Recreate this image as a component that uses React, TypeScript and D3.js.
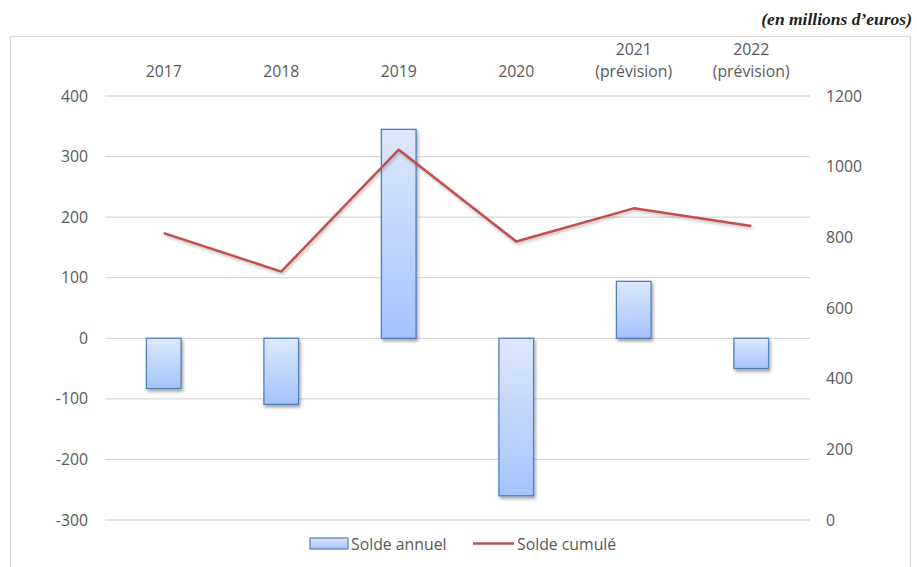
import React from "react";
import * as d3 from "d3";

const categories = ["2017", "2018", "2019", "2020", "2021\n(prévision)", "2022\n(prévision)"];
const soldeAnnuel = [-83, -109, 345, -260, 94, -50];
const soldeCumule = [812, 703, 1048, 788, 882, 832];
const leftTicks = [400, 300, 200, 100, 0, -100, -200, -300];
const rightTicks = [1200, 1000, 800, 600, 400, 200, 0];

const W = 917, H = 567;
const FONT = "'Open Sans', 'Liberation Sans', sans-serif";
const FS = 15.8;

export default function App() {
  const x = d3.scaleBand<string>().domain(categories).range([105, 810]).paddingInner(0.705).paddingOuter(0.3525);
  const yL = d3.scaleLinear().domain([-300, 400]).range([520, 96]);
  const yR = d3.scaleLinear().domain([0, 1200]).range([520, 96]);
  const xc = (c: string) => (x(c) as number) + x.bandwidth() / 2;
  const line = d3.line<number>().x((_, i) => xc(categories[i])).y((d) => yR(d));

  return (
    <svg width={W} height={H} style={{ position: "absolute", left: 0, top: 0, background: "#fff" }}>
      <defs>
        <linearGradient id="barGrad" x1="0" y1="0" x2="0" y2="1">
          <stop offset="0%" stopColor="#dde8fc" />
          <stop offset="100%" stopColor="#a5c3fb" />
        </linearGradient>
        <filter id="shadow" x="-30%" y="-10%" width="160%" height="130%">
          <feDropShadow dx="1.5" dy="2.5" stdDeviation="1.8" floodColor="#000" floodOpacity="0.35" />
        </filter>
        <filter id="lshadow" x="-10%" y="-20%" width="120%" height="140%">
          <feDropShadow dx="1" dy="2" stdDeviation="1.5" floodColor="#000" floodOpacity="0.25" />
        </filter>
      </defs>
      <text x={912} y={25} textAnchor="end" fontFamily="'Liberation Serif', serif" fontStyle="italic" fontWeight="bold" fontSize={17.5} fill="#222">
        (en millions d’euros)
      </text>
      <rect x={10.5} y={36.5} width={900} height={560} fill="#fff" stroke="#d9d9d9" strokeWidth={1.2} />
      {leftTicks.map((t) => (
        <g key={t}>
          <line x1={105} x2={810} y1={yL(t)} y2={yL(t)} stroke="#d9d9d9" strokeWidth={1.3} />
          <text x={88} y={yL(t) + 5.5} textAnchor="end" fontFamily={FONT} fontSize={FS} fill="#595959">{t}</text>
        </g>
      ))}
      {rightTicks.map((t) => (
        <text key={t} x={826} y={yR(t) + 5.5} textAnchor="start" fontFamily={FONT} fontSize={FS} fill="#595959">{t}</text>
      ))}
      {categories.map((c) => {
        const lines = c.split("\n");
        return (
          <text key={c} textAnchor="middle" fontFamily={FONT} fontSize={FS} fill="#595959">
            {lines.map((l, i) => (
              <tspan key={i} x={xc(c)} y={77 - (lines.length - 1 - i) * 22}>{l}</tspan>
            ))}
          </text>
        );
      })}
      {soldeAnnuel.map((v, i) => {
        const c = categories[i];
        const y0 = yL(0), y1 = yL(v);
        return (
          <rect key={c} x={x(c)} y={Math.min(y0, y1)} width={x.bandwidth()} height={Math.abs(y1 - y0)}
            fill="url(#barGrad)" stroke="#4f81bd" strokeWidth={1.3} filter="url(#shadow)" />
        );
      })}
      <path d={line(soldeCumule) || ""} fill="none" stroke="#c0504d" strokeWidth={2.5} strokeLinejoin="round" filter="url(#lshadow)" />
      <rect x={310} y={538} width={38} height={11} fill="url(#barGrad)" stroke="#4f81bd" strokeWidth={1.2} />
      <text x={351} y={549.5} fontFamily={FONT} fontSize={FS} fill="#595959">Solde annuel</text>
      <line x1={473} x2={514} y1={543.5} y2={543.5} stroke="#c0504d" strokeWidth={2.5} />
      <text x={517} y={549.5} fontFamily={FONT} fontSize={FS} fill="#595959">Solde cumulé</text>
    </svg>
  );
}
